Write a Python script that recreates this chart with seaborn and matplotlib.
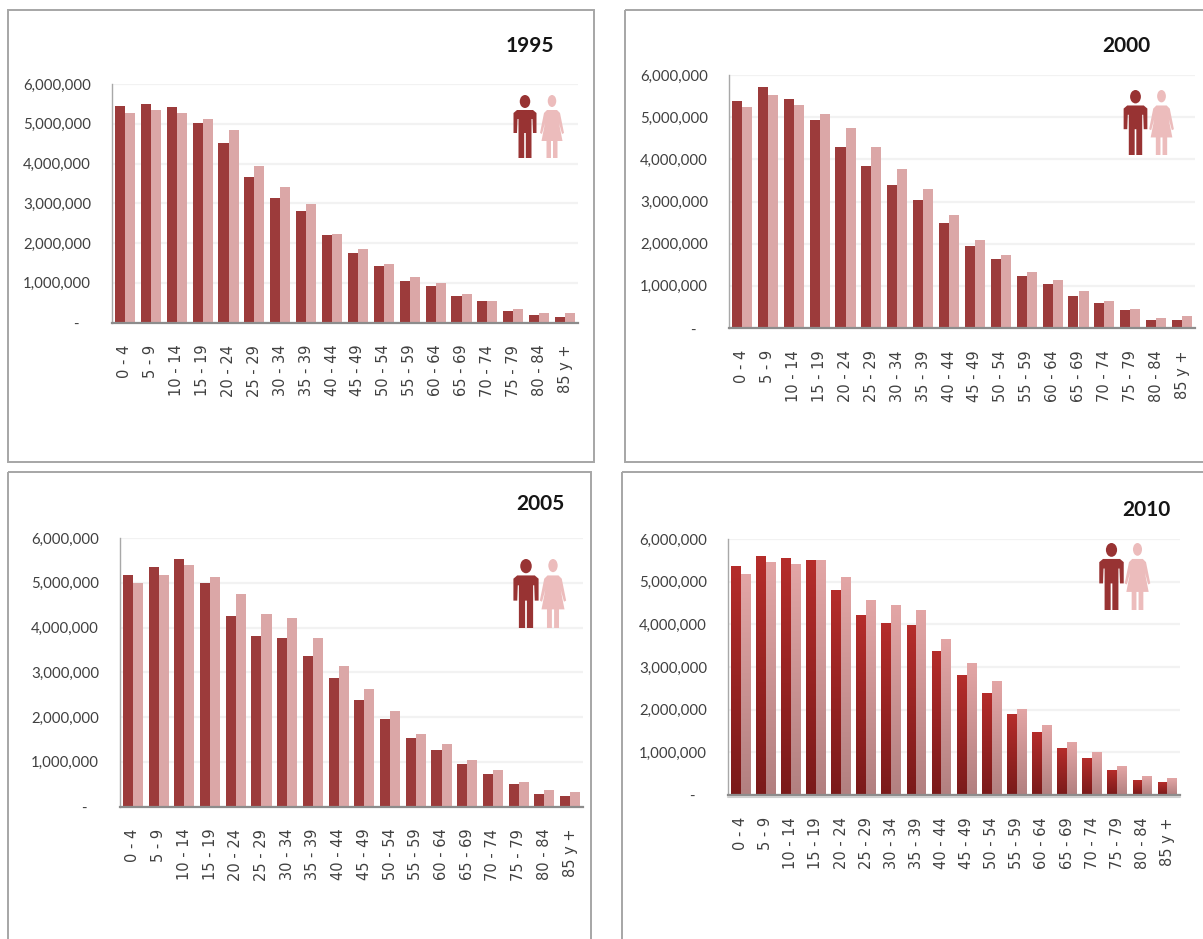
#!/usr/bin/env python3
import matplotlib
matplotlib.use("Agg")
import matplotlib.pyplot as plt
import seaborn as sns
import numpy as np
import pandas as pd
from matplotlib.patches import Ellipse, Polygon, Rectangle
from matplotlib.ticker import FuncFormatter

sns.set_theme(style="white")

W, H = 1203, 939

age_groups = ['0 - 4', '5 - 9', '10 - 14', '15 - 19', '20 - 24', '25 - 29', '30 - 34', '35 - 39',
              '40 - 44', '45 - 49', '50 - 54', '55 - 59', '60 - 64', '65 - 69', '70 - 74',
              '75 - 79', '80 - 84', '85 y +']

male_1995 = [5450000, 5500000, 5410000, 5030000, 4510000, 3650000, 3130000, 2800000, 2190000,
             1760000, 1430000, 1050000, 910000, 670000, 530000, 285000, 190000, 150000]
female_1995 = [5260000, 5350000, 5260000, 5120000, 4840000, 3940000, 3420000, 2990000, 2230000,
               1850000, 1470000, 1140000, 1000000, 720000, 530000, 335000, 250000, 250000]

male_2000 = [5390000, 5710000, 5430000, 4930000, 4300000, 3850000, 3400000, 3040000, 2500000,
             1950000, 1640000, 1230000, 1050000, 770000, 600000, 420000, 190000, 190000]
female_2000 = [5250000, 5520000, 5300000, 5070000, 4750000, 4300000, 3760000, 3300000, 2670000,
               2090000, 1720000, 1320000, 1140000, 870000, 640000, 460000, 240000, 280000]

male_2005 = [5170000, 5350000, 5530000, 5000000, 4250000, 3810000, 3760000, 3370000, 2880000,
             2390000, 1960000, 1520000, 1260000, 950000, 720000, 500000, 280000, 240000]
female_2005 = [5000000, 5170000, 5400000, 5130000, 4740000, 4300000, 4210000, 3760000, 3140000,
               2620000, 2130000, 1610000, 1390000, 1030000, 810000, 540000, 360000, 320000]

male_2010 = [5360000, 5590000, 5550000, 5500000, 4800000, 4200000, 4010000, 3970000, 3360000,
             2800000, 2390000, 1880000, 1460000, 1090000, 850000, 580000, 340000, 300000]
female_2010 = [5170000, 5450000, 5410000, 5500000, 5090000, 4570000, 4430000, 4330000, 3640000,
               3080000, 2670000, 2010000, 1640000, 1230000, 990000, 670000, 440000, 380000]

MALE = '#9c3b3b'
FEMALE = '#dba7a7'
ICON_MALE = '#983333'
ICON_FEMALE = '#ecbcbc'

# panel layout in pixels of the target image
panels = [
    dict(year='1995', male=male_1995, female=female_1995, left=112, right=578, top=84, bottom=322.5,
         title=(530, 46), man=525, woman=552, icon=(95, 158)),
    dict(year='2000', male=male_2000, female=female_2000, left=729, right=1195, top=75, bottom=328,
         title=(1126, 46), man=1135.5, woman=1161.5, icon=(90, 155)),
    dict(year='2005', male=male_2005, female=female_2005, left=120, right=583, top=538, bottom=806.5,
         title=(540, 504), man=526, woman=553, icon=(559, 628)),
    dict(year='2010', male=male_2010, female=female_2010, left=728, right=1180, top=539, bottom=795,
         title=(1146, 510), man=1111.5, woman=1137.5, icon=(543, 610), gradient=True),
]

frames = [(7.5, 10, 594, 462), (625, 10, 1230, 462), (8, 472, 591, 960), (622, 472, 1230, 960)]


def draw_man(ov, cx, top, bottom):
    s = (bottom - top) / 63
    ov.add_patch(Ellipse((cx, top + 6.5 * s), 10.5 * s, 13 * s, color=ICON_MALE, lw=0))
    pts = [(-8, 15), (8, 15), (11.5, 18), (11.5, 38), (8, 38), (7.5, 24), (6.5, 24), (6.5, 63), (0.8, 63),
           (0.8, 38), (-0.8, 38), (-0.8, 63), (-6.5, 63), (-6.5, 24), (-7.5, 24), (-8, 38), (-11.5, 38),
           (-11.5, 18)]
    ov.add_patch(Polygon([(cx + x * s, top + y * s) for x, y in pts], color=ICON_MALE, lw=0))


def draw_woman(ov, cx, top, bottom):
    s = (bottom - top) / 63
    ov.add_patch(Ellipse((cx, top + 6 * s), 8.5 * s, 12 * s, color=ICON_FEMALE, lw=0))
    pts = [(-5, 15), (5, 15), (8, 18), (12, 38), (10, 39), (7, 28), (10.5, 46), (5.5, 46), (5.5, 63), (1, 63),
           (1, 46), (-1, 46), (-1, 63), (-5.5, 63), (-5.5, 46), (-10.5, 46), (-7, 28), (-10, 39), (-12, 38),
           (-8, 18)]
    ov.add_patch(Polygon([(cx + x * s, top + y * s) for x, y in pts], color=ICON_FEMALE, lw=0))


def add_gradient(ax, bar, top_color, bottom_color):
    """Paint a vertical gradient over a bar, with the bar's own extent."""
    c0 = np.array(matplotlib.colors.to_rgb(top_color))
    c1 = np.array(matplotlib.colors.to_rgb(bottom_color))
    t = np.linspace(0, 1, 256)[:, None, None]
    x0, w, h = bar.get_x(), bar.get_width(), bar.get_height()
    ax.imshow(c0 * (1 - t) + c1 * t, extent=(x0, x0 + w, 0, h), aspect='auto', zorder=3,
              interpolation='bilinear')


def plot_panel(fig, p):
    ax = fig.add_axes([p['left'] / W, 1 - p['bottom'] / H,
                       (p['right'] - p['left']) / W, (p['bottom'] - p['top']) / H])
    df = pd.DataFrame({
        'age': age_groups * 2,
        'population': p['male'] + p['female'],
        'sex': ['Male'] * len(age_groups) + ['Female'] * len(age_groups),
    })
    sns.barplot(data=df, x='age', y='population', hue='sex', order=age_groups,
                palette={'Male': MALE, 'Female': FEMALE}, width=0.78, gap=0,
                saturation=1, legend=False, ax=ax, zorder=3, linewidth=0)

    if p.get('gradient'):
        n = len(age_groups)
        for i, bar in enumerate(ax.patches[:2 * n]):
            if i < n:
                add_gradient(ax, bar, '#b52d2b', '#7a1a1a')
            else:
                add_gradient(ax, bar, '#e3a6a6', '#b28080')

    ax.set_xlim(-0.5, len(age_groups) - 0.5)
    ax.set_ylim(0, 6000000)
    ax.set_xlabel('')
    ax.set_ylabel('')
    ax.set_yticks(np.arange(0, 6000001, 1000000))
    ax.yaxis.set_major_formatter(FuncFormatter(lambda v, _: '-   ' if v == 0 else f'{int(v):,}'))
    ax.grid(True, axis='y', color='#f2f2f2', lw=1.6, zorder=0)
    ax.set_axisbelow(True)
    ax.patch.set_alpha(0)

    for side in ['top', 'right']:
        ax.spines[side].set_visible(False)
    ax.spines['left'].set_color('#a8a8a8')
    ax.spines['left'].set_linewidth(1.0)
    ax.spines['bottom'].set_color('#8c8c8c')
    ax.spines['bottom'].set_linewidth(1.6)
    ax.spines['bottom'].set_zorder(5)

    ax.tick_params(axis='y', length=0, pad=15, labelsize=10.8, labelcolor='#404040')
    ax.tick_params(axis='x', length=0, pad=16, labelsize=10.5, labelcolor='#404040')
    for lab in ax.get_yticklabels():
        lab.set_family(['Lato', 'DejaVu Sans'])
    for lab in ax.get_xticklabels():
        lab.set_rotation(90)
        lab.set_family(['DejaVu Sans'])
        lab.set_va('top')
        lab.set_ha('center')
    return ax


def main():
    fig = plt.figure(figsize=(W / 100, H / 100), dpi=100, facecolor='white')

    # overlay in pixel coordinates for the frames, years and person icons
    ov = fig.add_axes([0, 0, 1, 1], zorder=10)
    ov.set_xlim(0, W)
    ov.set_ylim(H, 0)
    ov.axis('off')
    ov.patch.set_alpha(0)

    for x0, y0, x1, y1 in frames:
        ov.add_patch(Rectangle((x0, y0), x1 - x0, y1 - y0, fill=False, ec='#a6a6a6', lw=1.4))

    for p in panels:
        plot_panel(fig, p)
        ov.text(p['title'][0], p['title'][1], p['year'], ha='center', va='center', fontsize=15,
                fontweight='bold', color='#151515', family=['Lato', 'DejaVu Sans'])
        draw_man(ov, p['man'], *p['icon'])
        draw_woman(ov, p['woman'], *p['icon'])
        if p.get('gradient'):
            # soft shadow under the 2010 baseline
            ov.plot([p['left'], p['right']], [p['bottom'] + 2, p['bottom'] + 2], color='#d0d0d0', lw=1.5)

    fig.savefig('out.png', dpi=100)
    plt.close(fig)


if __name__ == "__main__":
    main()
